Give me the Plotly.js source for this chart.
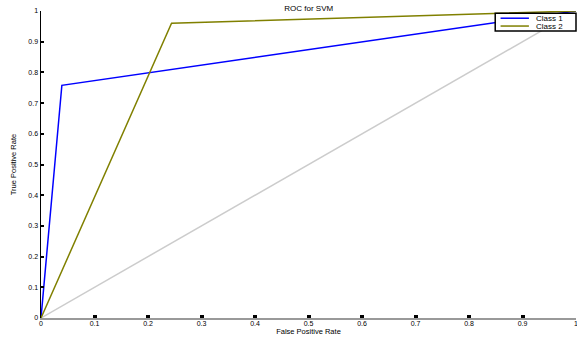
<!DOCTYPE html>
<html><head><meta charset="utf-8">
<script src="https://cdn.plot.ly/plotly-3.0.1.min.js"></script>
<style>body{margin:0;padding:0;background:#fff}#c{width:577px;height:337px}</style>
</head><body><div id="c"></div>
<script>
var class1X = [0, 0.039, 1];
var class1Y = [0, 0.758, 1];
var class2X = [0, 0.244, 1];
var class2Y = [0, 0.96, 1];
var diagX = [0, 1];
var diagY = [0, 1];
var seriesNames = ['Class 1', 'Class 2'];
var seriesColors = ['#0000ff', '#808000'];
var tickVals = [0, 0.1, 0.2, 0.3, 0.4, 0.5, 0.6, 0.7, 0.8, 0.9, 1];
var tickText = ['0', '0.1', '0.2', '0.3', '0.4', '0.5', '0.6', '0.7', '0.8', '0.9', '1'];

var traces = [
  {x: diagX, y: diagY, mode: 'lines', line: {color: '#cccccc', width: 1.5}, showlegend: false, hoverinfo: 'skip'},
  {x: class1X, y: class1Y, mode: 'lines', name: seriesNames[0], line: {color: seriesColors[0], width: 1.5}, showlegend: false},
  {x: class2X, y: class2Y, mode: 'lines', name: seriesNames[1], line: {color: seriesColors[1], width: 1.5}, showlegend: false}
];
var fam = 'Liberation Sans, Arial, sans-serif';
var font = {family: fam, size: 7, color: '#000'};

// manual compact legend (paper coordinates relative to plot area)
var legX0 = 0.849, legX1 = 1.0, legY1 = 0.993, legY0 = 0.935;
var shapes = [{type: 'rect', xref: 'paper', yref: 'paper', x0: legX0, x1: legX1, y0: legY0, y1: legY1,
  line: {color: '#000', width: 1.5}, fillcolor: '#fff', layer: 'above'}];
var annotations = [];
var rowY = [0.9765, 0.951];
seriesNames.forEach(function (n, i) {
  shapes.push({type: 'line', xref: 'paper', yref: 'paper', x0: 0.859, x1: 0.912, y0: rowY[i], y1: rowY[i],
    line: {color: seriesColors[i], width: 1.5}, layer: 'above'});
  annotations.push({xref: 'paper', yref: 'paper', x: 0.921, y: rowY[i], xanchor: 'left', yanchor: 'middle',
    text: n, showarrow: false, font: {family: fam, size: 8, color: '#000'}});
});

var layout = {
  width: 577, height: 337,
  margin: {l: 41, r: 1, t: 11, b: 19},
  paper_bgcolor: '#fff', plot_bgcolor: '#fff',
  font: font,
  title: {text: 'ROC for SVM', font: {family: fam, size: 8, color: '#000'}, x: 0.535, xanchor: 'center', y: 0.985, yanchor: 'top'},
  xaxis: {
    range: [0, 1], tickvals: tickVals, ticktext: tickText,
    showgrid: false, zeroline: false, showline: true, linecolor: '#999999', linewidth: 1.5,
    ticks: 'inside', ticklen: 3, tickwidth: 4, tickcolor: '#000',
    tickfont: font, ticklabelstandoff: -2, ticklabeloverflow: 'allow',
    title: {text: 'False Positive Rate', font: {family: fam, size: 7.5, color: '#000'}, standoff: 0}
  },
  yaxis: {
    range: [0, 1], tickvals: tickVals, ticktext: tickText,
    showgrid: false, zeroline: false, showline: true, linecolor: '#000', linewidth: 1.5,
    ticks: 'inside', ticklen: 3, tickwidth: 2, tickcolor: '#000',
    tickfont: font, ticklabeloverflow: 'allow',
    title: {text: 'True Positive Rate', font: {family: 'Liberation Sans Narrow, Liberation Sans, Arial, sans-serif', size: 7.5, color: '#000'}, standoff: 10}
  },
  shapes: shapes,
  annotations: annotations,
  showlegend: false
};
Plotly.newPlot('c', traces, layout, {staticPlot: true});
</script></body></html>
